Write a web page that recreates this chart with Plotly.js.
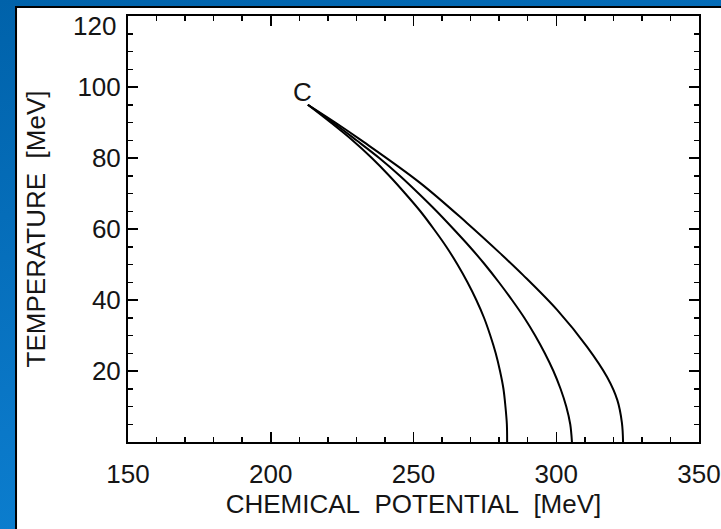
<!DOCTYPE html>
<html>
<head>
<meta charset="utf-8">
<script src="https://cdn.plot.ly/plotly-3.0.1.min.js"></script>
<style>
  html, body { margin: 0; padding: 0; width: 721px; height: 529px; overflow: hidden;
    background: linear-gradient(165deg, #0062aa 0%, #0a78c8 60%, #0c86d8 100%); }
  #chart { width: 721px; height: 529px; }
</style>
</head>
<body>
<div id="chart"></div>
<script>
// Chemical potential (MeV) vs temperature (MeV) for three phase-boundary curves
const T1  = [95, 90, 85, 80, 75, 70, 65, 60, 55, 50, 45, 40, 35, 30, 25, 20, 15, 10, 5, 0];
const mu1 = [213.0, 221.0, 228.6, 235.4, 241.5, 247.1, 252.4, 257.1, 261.5, 265.4, 268.9, 272.0, 274.7, 276.9, 278.8, 280.3, 281.5, 282.2, 282.7, 282.8];

const T2  = [95, 90, 85, 80, 75, 70, 65, 60, 55, 50, 45, 40, 35, 30, 25, 20, 15, 10, 5, 0];
const mu2 = [213.0, 221.8, 230.0, 238.0, 245.2, 251.8, 258.1, 264.0, 269.7, 275.0, 279.9, 284.5, 288.8, 292.6, 296.0, 299.0, 301.5, 303.5, 304.9, 305.5];

const T3  = [95, 90, 85.1, 73.0, 61.7, 53.2, 47.0, 37.2, 26.8, 18.3, 11.8, 5.4, 0];
const mu3 = [213.0, 222.6, 231.5, 252.3, 268.7, 280.3, 288.4, 300.3, 310.8, 317.8, 321.4, 323.0, 323.4];

const xTickVals = [150, 200, 250, 300, 350];
const yTickVals = [0, 20, 40, 60, 80, 100, 120];
const yTickText = ['', '20', '40', '60', '80', '100', ''];
const topTickLabel = {text: '120', T: 117.2};
const pointLabel = {text: 'C', mu: 211, T: 98.6};

const FONT = 'Liberation Sans, Arial, sans-serif';
const lineStyle = {color: '#000', width: 2, shape: 'spline', smoothing: 1};

const traces = [
  {x: mu1, y: T1, mode: 'lines', line: lineStyle, hoverinfo: 'skip'},
  {x: mu2, y: T2, mode: 'lines', line: lineStyle, hoverinfo: 'skip'},
  {x: mu3, y: T3, mode: 'lines', line: lineStyle, hoverinfo: 'skip'}
];

const axisCommon = {
  showgrid: false, zeroline: false, showline: true, linecolor: '#000', linewidth: 2,
  mirror: 'ticks', ticks: 'inside', ticklen: 10, tickwidth: 1.5, tickcolor: '#000',
  tickfont: {family: FONT, size: 26, color: '#151515'}
};

const layout = {
  width: 721, height: 529,
  margin: {l: 128, r: 22, t: 16, b: 87},
  paper_bgcolor: 'rgba(0,0,0,0)',
  plot_bgcolor: '#fff',
  showlegend: false,
  xaxis: Object.assign({}, axisCommon, {
    range: [150, 350], tickmode: 'array', tickvals: xTickVals,
    ticklabelstandoff: 8,
    minor: {tickmode: 'linear', tick0: 150, dtick: 10, ticks: 'inside', ticklen: 5, tickcolor: '#000'},
    title: {text: 'CHEMICAL&nbsp;&nbsp;POTENTIAL&nbsp;&nbsp;[MeV]', font: {family: FONT, size: 26, color: '#151515'}, standoff: 6}
  }),
  yaxis: Object.assign({}, axisCommon, {
    range: [0, 120], tickmode: 'array', tickvals: yTickVals, ticktext: yTickText,
    minor: {tickmode: 'linear', tick0: 0, dtick: 5, ticks: 'inside', ticklen: 5, tickcolor: '#000'},
    title: {text: 'TEMPERATURE&nbsp;&nbsp;[MeV]', font: {family: FONT, size: 26, color: '#151515'}, standoff: 24}
  }),
  shapes: [{
    type: 'rect', xref: 'paper', yref: 'paper', layer: 'below',
    x0: -0.1961, x1: 1.06, y0: -0.25, y1: 1.0211,
    fillcolor: '#fff', line: {color: '#000', width: 2}
  }],
  annotations: [{
    x: pointLabel.mu, y: pointLabel.T, xref: 'x', yref: 'y', text: pointLabel.text,
    showarrow: false, font: {family: FONT, size: 26, color: '#151515'}
  }, {
    x: -0.017, y: topTickLabel.T, xref: 'paper', yref: 'y', text: topTickLabel.text,
    xanchor: 'right', showarrow: false, font: {family: FONT, size: 26, color: '#151515'}
  }]
};

Plotly.newPlot('chart', traces, layout, {staticPlot: true, displayModeBar: false});
</script>
</body>
</html>
